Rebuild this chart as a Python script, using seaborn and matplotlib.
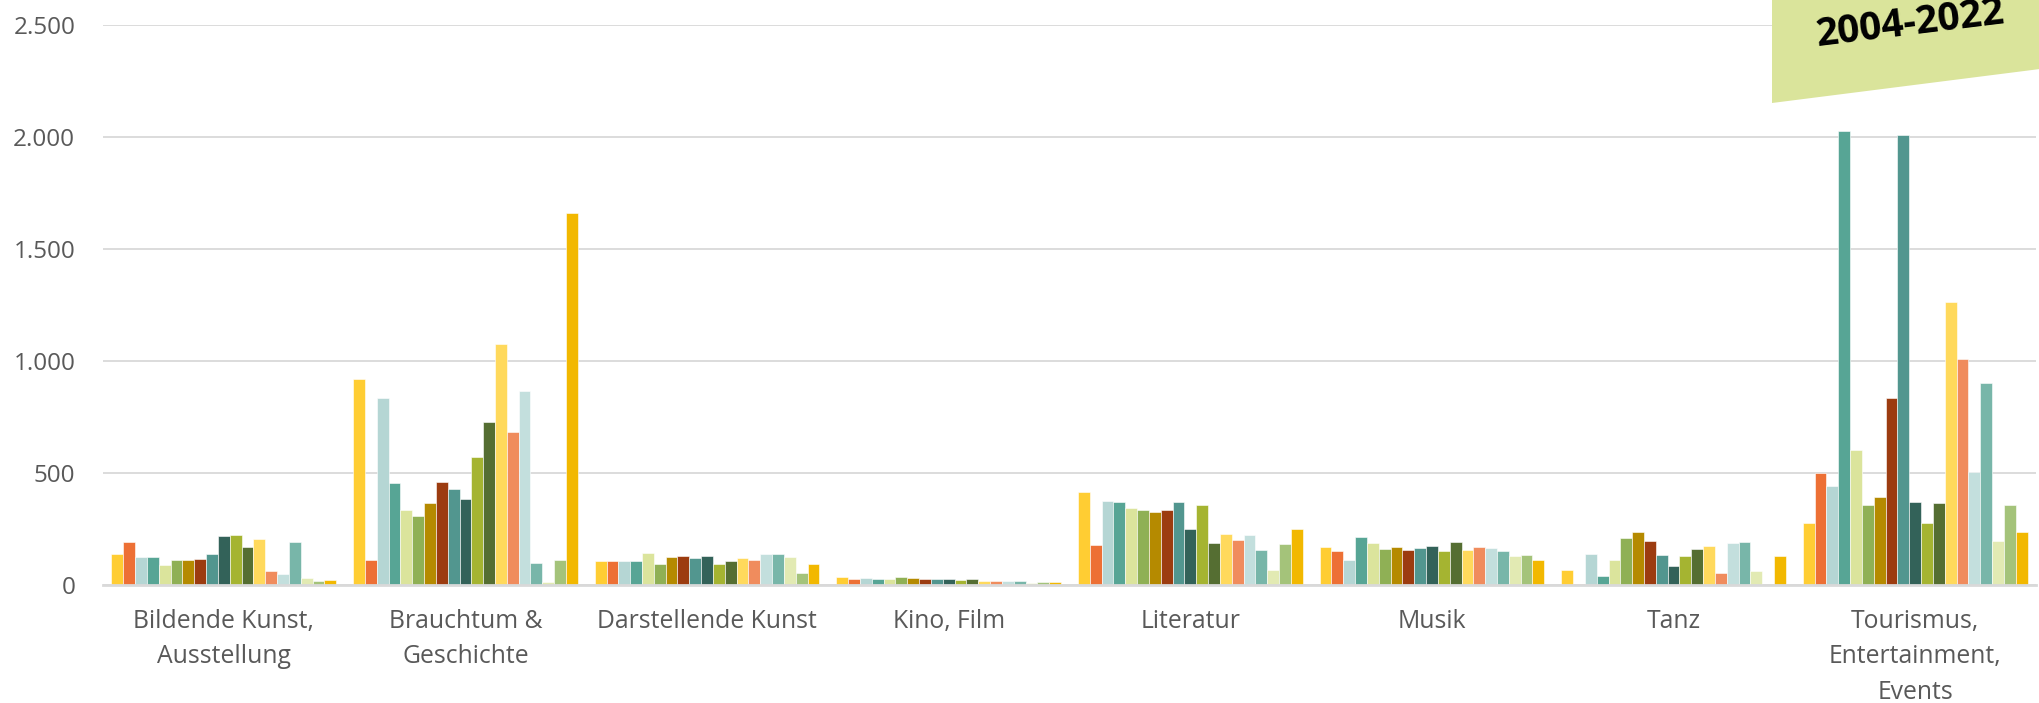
import matplotlib
matplotlib.use("Agg")
import matplotlib.pyplot as plt
from matplotlib.patches import Polygon
import seaborn as sns
import pandas as pd

categories = ["Bildende Kunst,\nAusstellung", "Brauchtum &\nGeschichte", "Darstellende Kunst",
              "Kino, Film", "Literatur", "Musik", "Tanz", "Tourismus,\nEntertainment,\nEvents"]
years = [str(y) for y in range(2004, 2023)]

bildende = [137, 190, 126, 126, 89, 112, 112, 116, 137, 219, 223, 171, 205, 62, 47, 192, 31, 18, 24]
brauchtum = [920, 112, 835, 457, 333, 306, 366, 460, 427, 384, 573, 728, 1074, 683, 866, 100, 12, 110, 1661]
darstellende = [106, 106, 106, 106, 143, 94, 123, 129, 120, 129, 94, 106, 119, 113, 138, 137, 126, 54, 95]
kino = [36, 28, 31, 28, 28, 36, 31, 28, 27, 25, 22, 25, 18, 18, 16, 18, 10, 15, 13]
literatur = [415, 177, 373, 370, 345, 335, 324, 335, 370, 250, 359, 186, 228, 201, 223, 156, 65, 182, 249]
musik = [170, 153, 112, 214, 186, 161, 170, 156, 167, 174, 153, 190, 156, 170, 165, 153, 129, 132, 113]
tanz = [65, 6, 138, 40, 112, 210, 238, 195, 132, 86, 128, 159, 174, 55, 188, 190, 63, 0, 128]
tourismus = [276, 500, 444, 2027, 604, 355, 391, 835, 2007, 371, 276, 366, 1262, 1007, 505, 900, 197, 357, 235]

series = [bildende, brauchtum, darstellende, kino, literatur, musik, tanz, tourismus]

colors = ["#FFCD33", "#ED7035", "#B5D6D4", "#57A595", "#DBE49C", "#8FB055", "#B58A00",
          "#9C3C10", "#52968F", "#336259", "#A5B431", "#556E32", "#FFD95C", "#F08C5D",
          "#C3DFDD", "#78B6A9", "#E2EAB3", "#A4C37A", "#F2B800"]

rows = []
for cat, vals in zip(categories, series):
    for yr, v in zip(years, vals):
        rows.append({"Kategorie": cat, "Jahr": yr, "Wert": v})
df = pd.DataFrame(rows)

sns.set_theme(style="white")
plt.rcParams["font.family"] = ["Open Sans", "DejaVu Sans"]

W, H = 2040, 703
fig = plt.figure(figsize=(W / 100, H / 100), dpi=100)
ax = fig.add_axes([103 / W, (H - 585) / H, (2036 - 103) / W, (585 - 25) / H])

sns.barplot(data=df, x="Kategorie", y="Wert", hue="Jahr", palette=colors, saturation=1,
            width=0.93, order=categories, hue_order=years, ax=ax, legend=False,
            edgecolor="white", linewidth=0.4, errorbar=None)

ax.set_ylim(0, 2500)
ax.set_yticks([0, 500, 1000, 1500, 2000, 2500])
ax.set_yticklabels(["0", "500", "1.000", "1.500", "2.000", "2.500"])
ax.set_xlim(-0.5, len(categories) - 0.5)
ax.yaxis.grid(True, color="#D9D9D9", linewidth=1.3)
ax.set_axisbelow(True)
for s in ["top", "right", "left"]:
    ax.spines[s].set_visible(False)
ax.spines["bottom"].set_color("#D9D9D9")
ax.spines["bottom"].set_linewidth(2)
ax.set_xlabel("")
ax.set_ylabel("")
ax.tick_params(axis="y", length=0, pad=20, labelsize=17.5, labelcolor="#595959")
ax.tick_params(axis="x", length=0, pad=17, labelsize=17.8, labelcolor="#595959")
for lbl in ax.get_xticklabels():
    lbl.set_linespacing(1.55)

banner = Polygon([(1772 / W, 1.0), (1.0, 1.0), (1.0, 1 - 69 / H), (1772 / W, 1 - 103 / H)],
                 closed=True, transform=fig.transFigure, facecolor="#DAE49B", edgecolor="none")
fig.patches.append(banner)
fig.text(1910 / W, 1 - 24 / H, "2004-2022", rotation=7, ha="center", va="center",
         fontsize=28, fontweight="bold", color="black")

fig.savefig("out.png", dpi=100)
